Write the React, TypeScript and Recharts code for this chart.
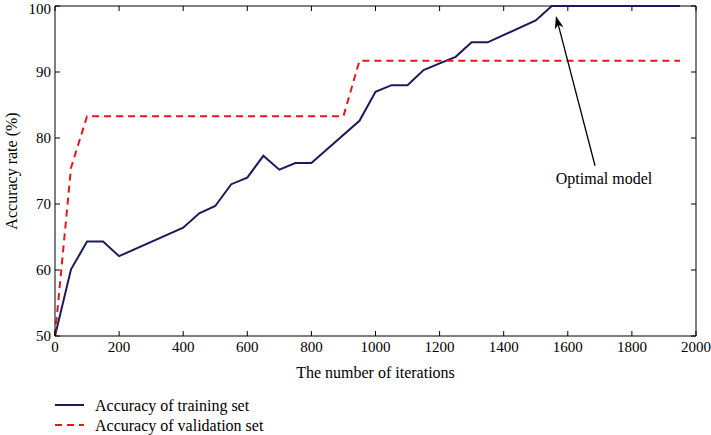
import { LineChart, Line, XAxis, YAxis, Legend, ReferenceLine, ReferenceDot } from 'recharts';

const FONT = '"Liberation Serif", "Times New Roman", serif';

const xTicks = [0, 200, 400, 600, 800, 1000, 1200, 1400, 1600, 1800, 2000];
const yTicks = [50, 60, 70, 80, 90, 100];

const trainIters = [0, 50, 100, 150, 200, 400, 450, 500, 550, 600, 650, 700, 750, 800, 950, 1000, 1050, 1100, 1150, 1200, 1250, 1300, 1350, 1500, 1550, 1950];
const trainAcc = [50, 60.1, 64.3, 64.3, 62.1, 66.4, 68.6, 69.7, 73, 74, 77.3, 75.2, 76.2, 76.2, 82.6, 87, 88, 88, 90.3, 91.3, 92.3, 94.5, 94.5, 97.8, 100, 100];

const valIters = [0, 50, 100, 900, 950, 1950];
const valAcc = [50, 75.5, 83.3, 83.3, 91.7, 91.7];

// arrow from the label up to the optimal point
const arrowTail = { x: 1685, y: 75.8 };
const arrowTip = { x: 1563, y: 98.5 };
const noteAt = { x: 1713, y: 73.9 };

const trainData = trainIters.map((it, i) => ({ iter: it, acc: trainAcc[i] }));
const valData = valIters.map((it, i) => ({ iter: it, acc: valAcc[i] }));

const NoTick = () => null;

// short inward tick at the top edge of the plot
const TopTick = (props: any) => {
  const { x1, y1 } = props;
  const top = Math.min(props.y1, props.y2);
  return <line x1={x1} x2={x1} y1={top} y2={top + 5} stroke="#000" strokeWidth={1} data-y={y1} />;
};

const Arrow = (props: any) => {
  const { x1, y1, x2, y2 } = props;
  const ang = Math.atan2(y2 - y1, x2 - x1);
  const len = 13;
  const w = 4.5;
  const c = Math.cos(ang);
  const s = Math.sin(ang);
  const bx = x2 - len * c;
  const by = y2 - len * s;
  const nx = x2 - len * 0.7 * c;
  const ny = y2 - len * 0.7 * s;
  const pts = [
    [x2, y2],
    [bx - w * s, by + w * c],
    [nx, ny],
    [bx + w * s, by - w * c],
  ].map((p) => p.join(',')).join(' ');
  return (
    <g>
      <line x1={x1} y1={y1} x2={nx} y2={ny} stroke="#000" strokeWidth={1.3} />
      <polygon points={pts} fill="#000" />
    </g>
  );
};

const YLabel = (props: any) => {
  const { viewBox } = props;
  const cx = viewBox.x + 11;
  const cy = viewBox.y + viewBox.height / 2;
  return (
    <text x={cx} y={cy} transform={`rotate(-90 ${cx} ${cy})`} textAnchor="middle" dominantBaseline="central"
      fontSize={16} fontFamily={FONT} fill="#000">
      Accuracy rate (%)
    </text>
  );
};

const LegendContent = (props: any) => {
  const { payload } = props;
  const items = (payload ?? []).filter((p: any) => p.type !== 'none');
  return (
    <svg width={400} height={40} style={{ display: 'block' }}>
      {items.map((p: any, i: number) => (
        <g key={p.value}>
          <line x1={55} x2={84} y1={10 + i * 20} y2={10 + i * 20} stroke={p.color} strokeWidth={2}
            strokeDasharray={p.payload?.strokeDasharray} />
          <text x={95} y={10 + i * 20} dominantBaseline="central" fontSize={16} fontFamily={FONT} fill="#000">
            {p.value}
          </text>
        </g>
      ))}
    </svg>
  );
};

export default function App() {
  return (
    <div style={{ position: 'absolute', left: 0, top: 0 }}>
      <LineChart width={711} height={435} margin={{ top: 6, right: 14, bottom: 0, left: 0 }} style={{ fontFamily: FONT }}>
        <XAxis dataKey="iter" type="number" domain={[0, 2000]} ticks={xTicks} height={59}
          stroke="#000" tickSize={-5} tickMargin={10} allowDuplicatedCategory={false}
          tick={{ fill: '#000', fontSize: 15, fontFamily: FONT }}
          label={{ value: 'The number of iterations', position: 'insideBottom', offset: 17, fill: '#000', fontSize: 16, fontFamily: FONT }} />
        <YAxis type="number" domain={[50, 100]} ticks={yTicks} width={55} stroke="#000" tickSize={-5} tickMargin={9}
          tick={{ fill: '#000', fontSize: 15, fontFamily: FONT }} label={<YLabel />} />
        <YAxis yAxisId="right" orientation="right" type="number" domain={[50, 100]} ticks={yTicks} width={1}
          stroke="#000" tickSize={-5} tickMargin={0} tick={<NoTick />} />
        <Legend verticalAlign="bottom" align="left" layout="horizontal" wrapperStyle={{ height: 40, left: 0 }}
          content={<LegendContent />} />
        {/* invisible series so the mirrored right axis gets drawn */}
        <Line data={valData} dataKey="acc" yAxisId="right" stroke="none" dot={false}
          legendType="none" isAnimationActive={false} />
        {/* top frame edge with inward ticks */}
        <ReferenceLine y={100} stroke="#000" strokeWidth={1} />
        {xTicks.map((t) => (
          <ReferenceLine key={t} x={t} shape={<TopTick />} />
        ))}
        <Line data={trainData} dataKey="acc" name="Accuracy of training set" stroke="#1b1a5c" strokeWidth={2}
          dot={false} isAnimationActive={false} />
        <Line data={valData} dataKey="acc" name="Accuracy of validation set" stroke="#e8161c" strokeWidth={2}
          strokeDasharray="7 5" dot={false} isAnimationActive={false} />
        <ReferenceLine segment={[arrowTail, arrowTip]} shape={<Arrow />} />
        <ReferenceDot x={noteAt.x} y={noteAt.y} r={0} fill="none" stroke="none"
          label={{ value: 'Optimal model', position: 'center', fill: '#000', fontSize: 16, fontFamily: FONT }} />
      </LineChart>
    </div>
  );
}
